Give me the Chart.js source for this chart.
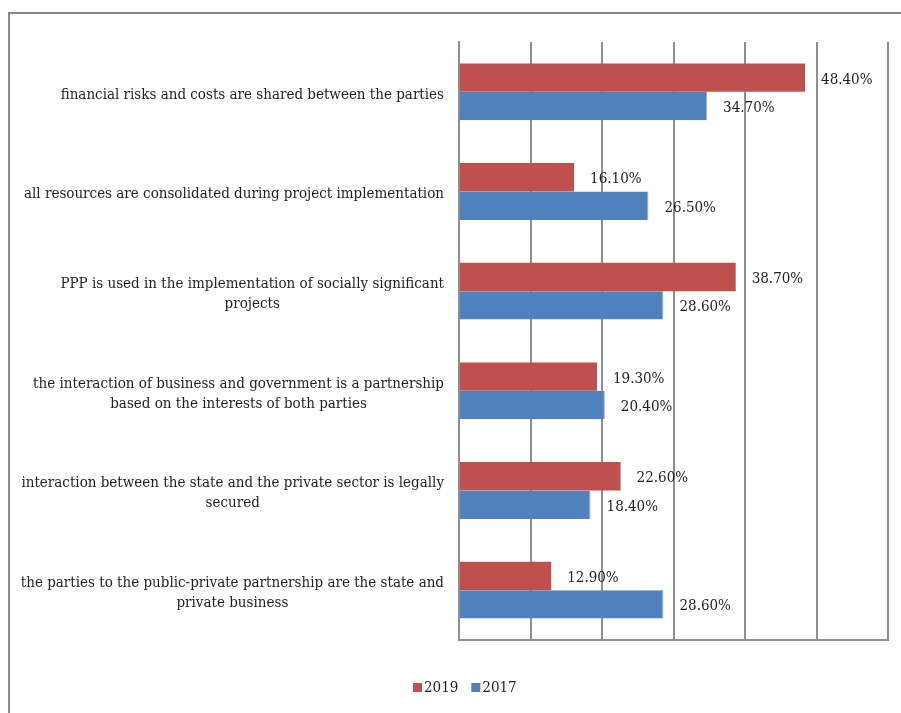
<!DOCTYPE html>
<html>
<head>
<meta charset="utf-8">
<script src="https://cdn.jsdelivr.net/npm/chart.js@4.4.0/dist/chart.umd.min.js"></script>
<style>
  html, body { margin: 0; padding: 0; background: #fff; overflow: hidden; }
  #wrap { position: relative; width: 901px; height: 713px; }
</style>
</head>
<body>
<div id="wrap"><canvas id="chart" width="901" height="713"></canvas></div>
<script>
const categories = [
  ["financial risks and costs are shared between the parties"],
  ["all resources are consolidated during project implementation"],
  ["PPP is used in the implementation of socially significant", "projects"],
  ["the interaction of business and government is a partnership", "based on the interests of both parties"],
  ["interaction between the state and the private sector is legally", "secured"],
  ["the parties to the public-private partnership are the state and", "private business"],
];
const values2019 = [48.4, 16.1, 38.7, 19.3, 22.6, 12.9];
const values2017 = [34.7, 26.5, 28.6, 20.4, 18.4, 28.6];
const seriesNames = ["2019", "2017"];
const xTicks = [0, 10, 20, 30, 40, 50, 60];

const FONT = '"DejaVu Serif Condensed", "DejaVu Serif", serif';
const TEXT = "#1f1f1f";
const GRID = "#8f8f8f";

// frame, category labels, value labels and legend
const decor = {
  id: "decor",
  beforeDraw(chart) {
    const ctx = chart.ctx;
    ctx.save();
    ctx.strokeStyle = "#8a8a8a";
    ctx.lineWidth = 2;
    ctx.beginPath();
    ctx.moveTo(9, chart.height + 5);
    ctx.lineTo(9, 13);
    ctx.lineTo(chart.width + 5, 13);
    ctx.stroke();
    ctx.restore();
  },
  afterDraw(chart) {
    const ctx = chart.ctx;
    const y = chart.scales.y;
    const area = chart.chartArea;
    ctx.save();
    ctx.fillStyle = TEXT;
    ctx.font = "15px " + FONT;
    ctx.textBaseline = "middle";
    ctx.textAlign = "center";
    const lineH = 20;
    categories.forEach((lines, i) => {
      const cy = y.getPixelForTick(i);
      const w = Math.max(...lines.map(l => ctx.measureText(l).width));
      const cx = area.left - 15 - w / 2;
      const y0 = cy - (lines.length - 1) * lineH / 2;
      lines.forEach((l, k) => ctx.fillText(l, cx, y0 + k * lineH + 3));
    });

    ctx.textAlign = "left";
    chart.data.datasets.forEach((ds, di) => {
      chart.getDatasetMeta(di).data.forEach((bar, i) => {
        ctx.fillText(ds.data[i].toFixed(2) + "%", bar.x + 16, bar.y + 2);
      });
    });

    // legend
    let lx = 413;
    const ly = 687;
    chart.data.datasets.forEach((ds) => {
      ctx.fillStyle = ds.backgroundColor;
      ctx.fillRect(lx, ly - 4, 9, 9);
      ctx.fillStyle = TEXT;
      ctx.fillText(ds.label, lx + 11, ly + 1);
      lx += 11 + ctx.measureText(ds.label).width + 13;
    });
    ctx.restore();
  }
};

new Chart(document.getElementById("chart"), {
  type: "bar",
  data: {
    labels: categories,
    datasets: [
      {
        label: seriesNames[0],
        data: values2019,
        backgroundColor: "#c0504d",
        categoryPercentage: 0.57,
        barPercentage: 1.0,
      },
      {
        label: seriesNames[1],
        data: values2017,
        backgroundColor: "#4f81bd",
        borderColor: "#8db3e2",
        borderWidth: { top: 0, bottom: 0, left: 0, right: 1 },
        categoryPercentage: 0.57,
        barPercentage: 1.0,
      },
    ],
  },
  options: {
    indexAxis: "y",
    responsive: false,
    animation: false,
    layout: { padding: { top: 42, right: 13, bottom: 73, left: 0 } },
    plugins: {
      legend: { display: false },
      tooltip: { enabled: false },
    },
    scales: {
      x: {
        min: 0,
        max: 60,
        afterBuildTicks: (s) => { s.ticks = xTicks.map(v => ({ value: v })); },
        afterFit: (s) => { s.height = 0; },
        ticks: { display: false },
        grid: { color: GRID, lineWidth: 2, drawTicks: false },
        border: { color: GRID, width: 2 },
      },
      y: {
        afterFit: (s) => { s.width = 459; },
        ticks: { display: false },
        grid: { display: false, drawTicks: false },
        border: { color: GRID, width: 2 },
      },
    },
  },
  plugins: [decor],
});
</script>
</body>
</html>
